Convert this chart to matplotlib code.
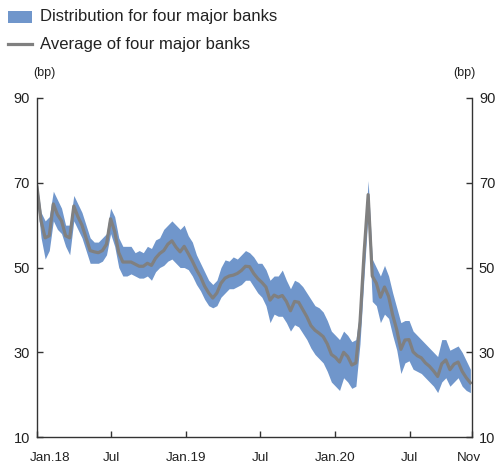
import matplotlib
matplotlib.use("Agg")
import matplotlib.pyplot as plt
import matplotlib.transforms as mtrans
import numpy as np
import pandas as pd
from matplotlib.patches import Rectangle
from matplotlib.lines import Line2D

plt.rcParams['font.family'] = ['Liberation Sans', 'DejaVu Sans']

# 10-day observation dates
dates = pd.date_range("2018-01-01", periods=107, freq="10D")

avg = [69, 61, 57, 57.5, 65, 62.5, 61, 57.5, 57, 64.5,
       62, 60, 57, 54, 53.7, 53.5, 54, 55.5, 61.5, 58.5,
       53.5, 51.3, 51.3, 51.3, 50.8, 50.3, 50.3, 51, 50.5, 52.2,
       53.3, 54, 55.5, 56.3, 54.8, 53.7, 55, 53.3, 51.5, 49.5,
       47.8, 45.6, 44, 42.8, 44, 46.3, 47.5, 48, 48.2, 48.6,
       49.3, 50.3, 50.2, 48.6, 47.4, 46.5, 45.4, 42.3, 43.5, 43,
       43.4, 42, 39.8, 42, 41.8, 40.1, 38.4, 36.3, 35.2, 34.5,
       33.7, 32, 29.5, 28.8, 27.7, 30, 29, 27, 27.5, 37,
       53.4, 67.2, 48, 46.3, 43, 45.4, 43.2, 38.8, 35.3, 30.7,
       32.9, 33, 30.1, 29.2, 28.7, 27.5, 26.7, 25.6, 24.3, 27.3,
       28.2, 25.9, 27.2, 27.7, 25.5, 24, 22.8]

low = [66, 57, 52, 54, 61, 59, 58, 55, 53, 61,
       59, 57, 54, 51, 51, 51, 51.5, 53, 58, 55,
       50, 48, 48, 48.5, 48, 47.5, 47.5, 48, 47, 49,
       50, 50.5, 51.5, 52, 51, 50, 50, 49.5, 48, 46,
       44.5, 42.5, 41, 40.5, 41, 43, 44, 45, 45, 45.5,
       46, 47, 47, 45.5, 44, 43, 41, 37, 39, 38.5,
       38.5, 37, 35, 36.5, 36, 34.5, 33, 31, 29.5, 28.5,
       27.5, 25.5, 23, 22, 21, 24, 23, 21.5, 22, 32,
       48, 63, 42, 41, 37, 39, 38, 34, 30.5, 25,
       27.5, 28, 26, 25.5, 25, 24, 23, 22, 20.5, 23,
       24, 22, 23, 24, 22, 21, 20.5]

high = [70, 63, 61, 62, 68, 66, 64, 60, 60, 67,
        65, 63, 60, 57, 56, 56, 57, 58, 64, 62,
        57, 55, 55, 55, 53.5, 54, 53.5, 55, 54.5, 56.5,
        57, 59, 60, 61, 60, 59, 60, 57.5, 56, 53,
        51, 49, 47, 46, 47, 50, 51.8, 51.5, 52.5, 52,
        53, 54, 53.5, 52.5, 51, 51, 49.5, 47, 48, 48,
        49.4, 47, 45, 47, 46.5, 45.5, 44, 42.5, 41, 40.5,
        39.5, 37.5, 35, 34, 33, 35, 34, 32.5, 33, 40,
        56, 70.5, 52, 50, 48, 50.5, 48, 44, 40.5, 37,
        37.5, 37.5, 35, 34, 33, 32, 31, 30, 29, 33,
        33, 30.5, 31, 31.5, 30, 28, 26]

yticks = [10, 30, 50, 70, 90]
xtick_dates = ["2018-01-01", "2018-07-01", "2019-01-01", "2019-07-01",
               "2020-01-01", "2020-07-01", "2020-11-30"]
xtick_labels = ["Jan.18", "Jul", "Jan.19", "Jul", "Jan.20", "Jul", "Nov"]

band_color = "#7096cb"
line_color = "#808080"
text_color = "#222222"

fig = plt.figure(figsize=(5.0, 4.71), dpi=100)
ax = fig.add_axes([0.074, 0.072, 0.870, 0.720])

ax.fill_between(dates, low, high, color=band_color, linewidth=0)
ax.plot(dates, avg, color=line_color, linewidth=2.3, solid_joinstyle="round")

ax.set_xlim(pd.Timestamp("2018-01-01"), pd.Timestamp("2020-11-30"))
ax.set_ylim(10, 90)
ax.set_yticks(yticks)
ax.set_xticks(pd.to_datetime(xtick_dates))
ax.set_xticklabels(xtick_labels)

ax.spines["top"].set_visible(False)
for s in ["left", "right", "bottom"]:
    ax.spines[s].set_color("#333333")
    ax.spines[s].set_linewidth(1.0)

ax.tick_params(axis="both", direction="in", length=4, width=1.0,
               colors="#333333", labelcolor=text_color)
ax.tick_params(axis="y", left=True, right=True, labelleft=True, labelright=True,
               pad=5, labelsize=10.5)
ax.tick_params(axis="x", pad=11, labelsize=9.7)

# nudge first and last x labels like the reference
labels = ax.get_xticklabels()
labels[0].set_transform(labels[0].get_transform() +
                        mtrans.ScaledTranslation(13 / 100, 0, fig.dpi_scale_trans))
labels[-1].set_transform(labels[-1].get_transform() +
                         mtrans.ScaledTranslation(-3 / 100, 0, fig.dpi_scale_trans))

fig.text(0.067, 0.845, "(bp)", fontsize=9, color=text_color, ha="left", va="center")
fig.text(0.952, 0.845, "(bp)", fontsize=9, color=text_color, ha="right", va="center")

# Legend (manual)
W, H = 500, 471
fig.add_artist(Rectangle((8 / W, 1 - 23 / H), 24 / W, 12 / H, transform=fig.transFigure,
                         facecolor=band_color, edgecolor="none"))
fig.add_artist(Line2D([8 / W, 32 / W], [1 - 44 / H, 1 - 44 / H], transform=fig.transFigure,
                      color=line_color, linewidth=2.3))
fig.text(40 / W, 1 - 17 / H, "Distribution for four major banks", fontsize=12,
         color=text_color, ha="left", va="center")
fig.text(40 / W, 1 - 44 / H, "Average of four major banks", fontsize=12,
         color=text_color, ha="left", va="center")

fig.savefig("out.png", dpi=100)
